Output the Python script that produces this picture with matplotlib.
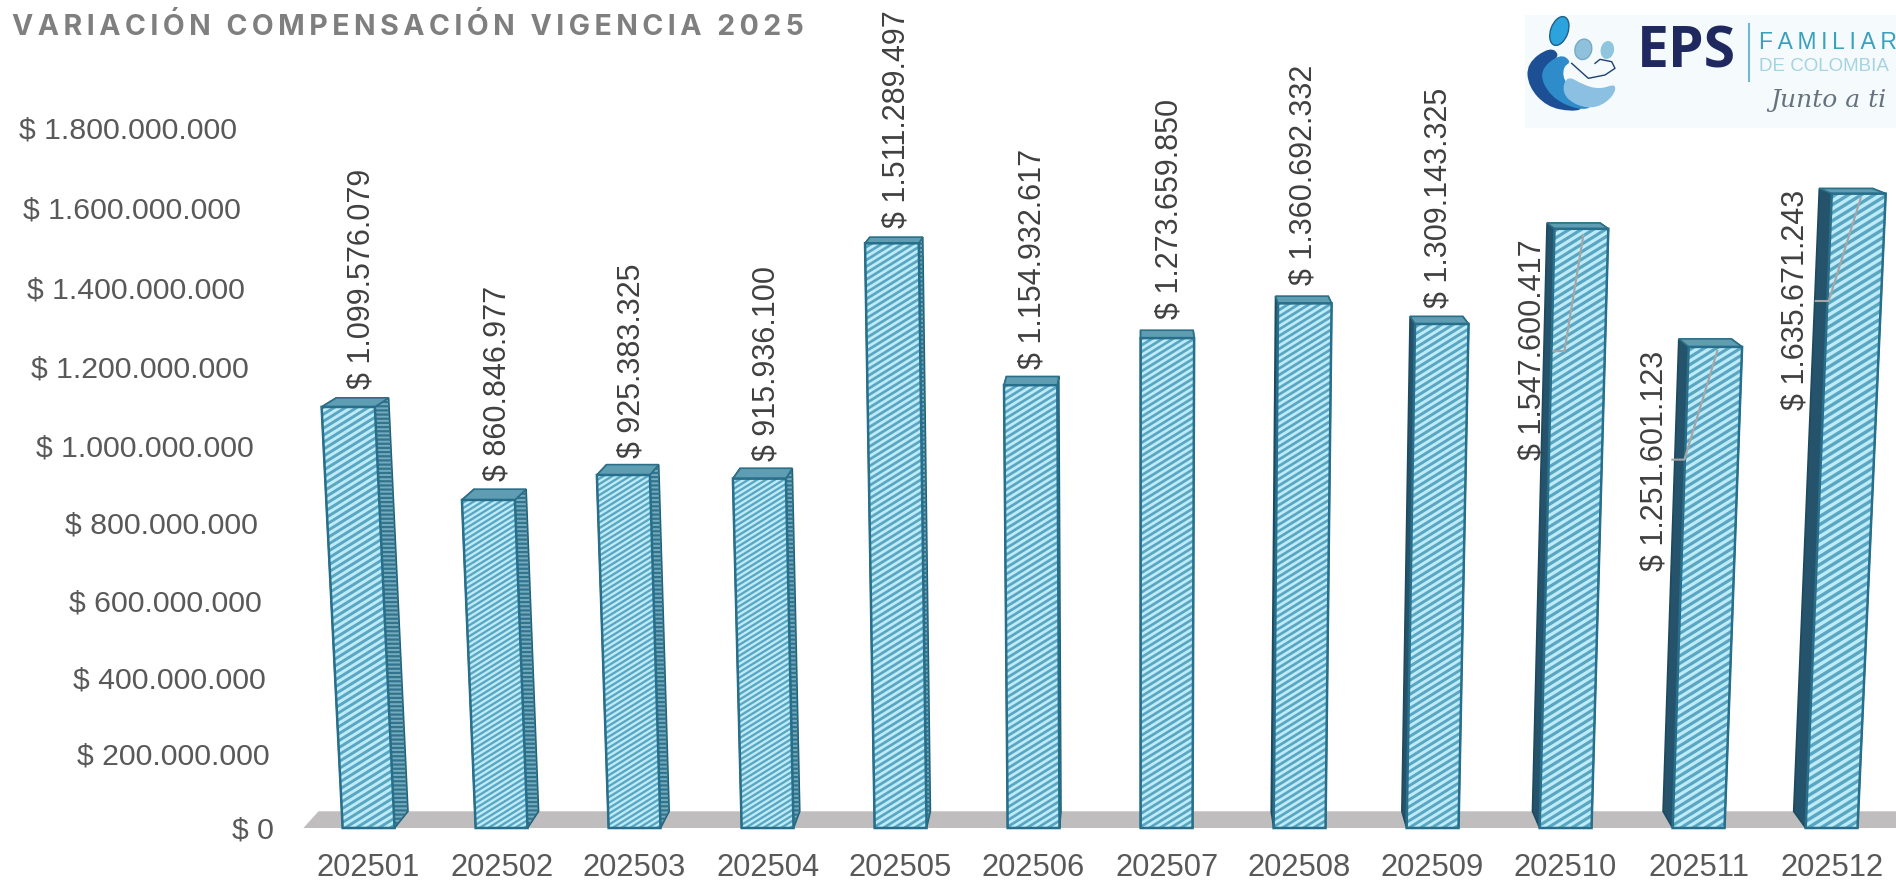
import numpy as np
import matplotlib
matplotlib.use("Agg")
import matplotlib.pyplot as plt
from matplotlib.collections import LineCollection
from matplotlib.patches import Polygon, Ellipse, PathPatch, Rectangle
from matplotlib.path import Path

plt.rcParams['font.family'] = ['Liberation Sans', 'DejaVu Sans']
plt.rcParams['hatch.linewidth'] = 1.6

periods = ["202501", "202502", "202503", "202504", "202505", "202506",
           "202507", "202508", "202509", "202510", "202511", "202512"]
values = [1099576079, 860846977, 925383325, 915936100, 1511289497, 1154932617,
          1273659850, 1360692332, 1309143325, 1547600417, 1251601123, 1635671243]
value_labels = ["$ 1.099.576.079", "$ 860.846.977", "$ 925.383.325", "$ 915.936.100",
                "$ 1.511.289.497", "$ 1.154.932.617", "$ 1.273.659.850", "$ 1.360.692.332",
                "$ 1.309.143.325", "$ 1.547.600.417", "$ 1.251.601.123", "$ 1.635.671.243"]
y_ticks = [0, 200e6, 400e6, 600e6, 800e6, 1000e6, 1200e6, 1400e6, 1600e6, 1800e6]
y_tick_labels = ["$ 0", "$ 200.000.000", "$ 400.000.000", "$ 600.000.000", "$ 800.000.000",
                 "$ 1.000.000.000", "$ 1.200.000.000", "$ 1.400.000.000",
                 "$ 1.600.000.000", "$ 1.800.000.000"]

# the value axis is not linear in the reference (perspective): px above the base per tick
tick_height = [0, 73.6, 149.7, 227.1, 304.5, 381.9, 460.5, 540.3, 620.1, 699.9]
scale_v = [-1e9] + y_ticks + [3e9]
scale_h = [-385.0] + tick_height + [1179.0]


def to_h(v):
    return np.interp(v, scale_v, scale_h)


def to_v(h):
    return np.interp(h, scale_h, scale_v)


# pixel scale of the plot (figure is 1896x882 at dpi 100)
PX_X = 133.0
PX_Y = 387e-9  # nominal px per peso, used for label offsets
BASE_X = 368.6
BASE_Y = 828.0

# fake 3d: bars flare away from CX with height, depth goes to a vanishing point
CX = 5.8
FLARE = 0.024e-9
DEPTH = 0.018
VP_H = 928.0
BAR_W = 0.39

fig = plt.figure(figsize=(18.96, 8.82), dpi=100, facecolor="white")
ax = fig.add_axes([0, 0, 1, 1])
ax.set_xlim(-BASE_X / PX_X, (1896 - BASE_X) / PX_X)
ax.set_yscale("function", functions=(to_h, to_v))
ax.set_ylim(to_v(-(882 - BASE_Y)), to_v(BASE_Y))
ax.axis("off")


def flare(x, v):
    return x + (x - CX) * FLARE * v


def back(x, v):
    h = to_h(v)
    return x + (CX - x) * DEPTH, to_v(h + (VP_H - h) * DEPTH)


# floor
fl, fr = -0.49, 11.6
ax.add_patch(Polygon([(fl, 0), (fr, 0), back(fr, 0), back(fl, 0)], closed=True,
                     fc="#bfbdbd", ec="none", zorder=1))

# stripe spacing on the front faces, in px (first bars look finer in the reference)
stripe_gap = [7.0, 5.5, 5.5, 5.5, 6.5, 6.5, 6.5, 6.5, 7.0, 7.5, 7.5, 8.0]

for i, v in enumerate(values):
    l0, r0 = i - BAR_W / 2, i + BAR_W / 2
    l1, r1 = flare(l0, v), flare(r0, v)
    z = 2 + i * 0.01

    # sides
    left = [(l0, 0), (l1, v), back(l1, v), back(l0, 0)]
    right = [(r0, 0), (r1, v), back(r1, v), back(r0, 0)]
    ax.add_patch(Polygon(left, closed=True, fc="#24536b", ec="#1d4a60", lw=1.2, zorder=z))
    ax.add_patch(Polygon(right, closed=True, fc="#75abbe", ec="#1f5f78", lw=1.2, zorder=z))
    ax.add_patch(Polygon(right, closed=True, fc="none", ec="#33748d", lw=0,
                         hatch="----", zorder=z))
    # top
    top = [(l1, v), (r1, v), back(r1, v), back(l1, v)]
    ax.add_patch(Polygon(top, closed=True, fc="#5f9db3", ec="#2b6f88", lw=1.2,
                         zorder=z + 0.001))
    # front with shallow stripes clipped to the face
    front = [(l0, 0), (r0, 0), (r1, v), (l1, v)]
    face = Polygon(front, closed=True, fc="#bdebf7", ec="none", zorder=z + 0.002)
    ax.add_patch(face)
    rise = 0.62 * PX_X * 0.5
    segs = []
    h = -rise
    while h < to_h(v) + rise:
        segs.append([(i - 0.5, to_v(h - rise)), (i + 0.5, to_v(h + rise))])
        h += stripe_gap[i]
    lc = LineCollection(segs, colors="#5aa6c2", linewidths=stripe_gap[i] * 0.3, zorder=z + 0.0025)
    ax.add_collection(lc, autolim=False)
    lc.set_clip_path(face)
    ax.add_patch(Polygon(front, closed=True, fc="none", ec="#276f8b", lw=1.8, zorder=z + 0.003))

# y axis labels follow the same flare as the bars
for t, lab in zip(y_ticks, y_tick_labels):
    ax.text(flare(-0.71, t), to_v(to_h(t) - 2.4), lab, ha="right", va="center", fontsize=21.8,
            color="#595959", zorder=5)

for i, p in enumerate(periods):
    ax.text(i, to_v(-40), p, ha="center", va="center", fontsize=22.2, color="#595959", zorder=5)

# data labels, offsets in px from the nominal top of the bar
label_dx = [13, 9, 8, 7, 5, 2, 2, -1, -3, -49, -61, -63]
label_dy = [13, 14, 12, 13, 15, 12, 16, 16, 13, -231, -227, -215]
for i, (v, lab) in enumerate(zip(values, value_labels)):
    xc = flare(i, v)
    ax.text(xc + label_dx[i] / PX_X, to_v(v * PX_Y + label_dy[i]), lab, rotation=90,
            ha="center", va="bottom", fontsize=22, color="#404040", zorder=6)

# leader lines for the three labels moved beside the bars
leaders = {9: [(-28, -122), (-17, -122), (2, -6)],
           10: [(-43, -116), (-31, -116), (2, -7)],
           11: [(-43, -106), (-30, -106), (2, -3)]}
for i, pts in leaders.items():
    v = values[i]
    xc = flare(i, v)
    ax.plot([xc + dx / PX_X for dx, dy in pts], [to_v(v * PX_Y + dy) for dx, dy in pts],
            color="#a6a6a6", lw=1.5, zorder=7)

fig.text(12 / 1896, 1 - 27 / 882, "\u2009".join("VARIACIÓN COMPENSACIÓN VIGENCIA 2025"),
         ha="left", va="center", fontsize=20.5, fontweight="bold", color="#7f7f7f",
         family=["Inter", "DejaVu Sans"])

# logo, drawn in the zoom coordinates of that corner
lg = fig.add_axes([1500 / 1896, 1 - 140 / 882, 396 / 1896, 140 / 882], zorder=10)
lg.set_xlim(0, 1188)
lg.set_ylim(420, 0)
lg.axis("off")
lg.add_patch(Rectangle((75, 45), 1113, 338, fc="#f5fafd", ec="none"))


def blob(pts, color):
    # closed quadratic spline through the midpoints of pts
    mids = [((pts[k][0] + pts[(k + 1) % len(pts)][0]) / 2,
             (pts[k][1] + pts[(k + 1) % len(pts)][1]) / 2) for k in range(len(pts))]
    verts = [mids[-1]]
    codes = [Path.MOVETO]
    for k in range(len(pts)):
        verts += [pts[k], mids[k]]
        codes += [Path.CURVE3, Path.CURVE3]
    lg.add_patch(PathPatch(Path(verts, codes), fc=color, ec="none"))


blob([(150, 140), (80, 190), (85, 260), (140, 320), (215, 335), (255, 325),
      (180, 295), (140, 240), (150, 190), (180, 165)], "#1d4f94")
blob([(180, 160), (115, 215), (150, 290), (230, 330), (285, 322), (225, 275),
      (190, 240), (190, 200), (215, 185)], "#2f8ccb")
blob([(200, 225), (250, 255), (300, 268), (350, 250), (340, 290), (290, 325),
      (230, 318), (185, 280)], "#8cc0e3")
lg.add_patch(Ellipse((178, 93), 52, 90, angle=20, fc="#2ba3dc", ec="#1f5f8a", lw=1))
lg.add_patch(Ellipse((250, 148), 50, 62, angle=15, fc="#8fc1dc", ec="#7aa9c4", lw=1))
lg.add_patch(Ellipse((322, 150), 36, 50, angle=10, fc="#8fc6de", ec="#8fc6de", lw=1))
lg.plot([215, 265, 315, 345, 335, 300, 285], [190, 235, 225, 205, 185, 178, 190], color="#1d3f73", lw=1.0)

lg.text(412, 158, "EPS", fontsize=41, fontweight="bold", color="#20295f", va="center", ha="left",
        family=["Open Sans", "DejaVu Sans"])
lg.plot([748, 748], [72, 242], color="#6fb9c9", lw=1.5)
lg.text(778, 128, "\u2009".join("FAMILIAR"), fontsize=16.5, color="#3aa0bd", va="center", ha="left")
lg.text(778, 200, "DE COLOMBIA", fontsize=13.5, color="#a5d3e0", va="center", ha="left")
lg.text(985, 300, "Junto a ti", fontsize=18, style="italic", color="#66727d", va="center", ha="center",
        family=["DejaVu Serif"])

fig.savefig("out.png", dpi=100, facecolor="white")
